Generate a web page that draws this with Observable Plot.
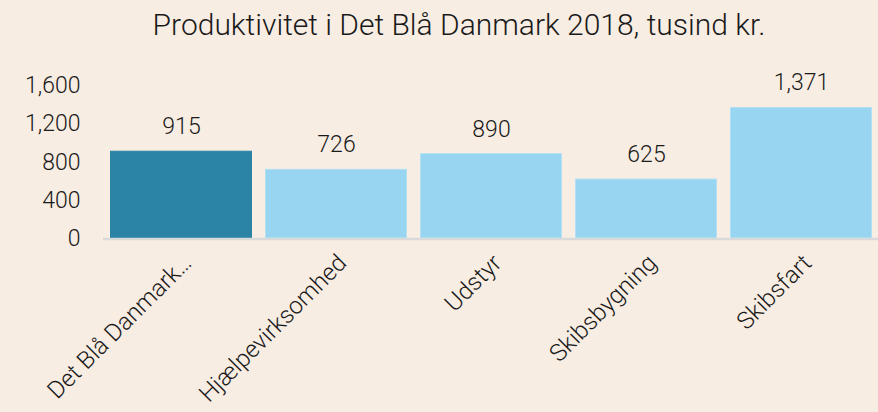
<!DOCTYPE html>
<html>
<head>
<meta charset="utf-8">
<script src="https://cdn.jsdelivr.net/npm/d3@7"></script>
<script src="https://cdn.jsdelivr.net/npm/@observablehq/plot@0.6"></script>
<style>
  html, body { margin: 0; padding: 0; background: #f8ede3; }
  body { width: 878px; height: 412px; overflow: hidden; font-family: Roboto, sans-serif; }
  #title { height: 58px; box-sizing: border-box; padding-top: 7px; padding-left: 40px; text-align: center;
           font-size: 30px; font-weight: 300; color: #1a1a1a; line-height: 36px; }
</style>
</head>
<body>
<div id="title">Produktivitet i Det Blå Danmark 2018, tusind kr.</div>
<div id="chart"></div>
<script>
const categories = ["Det Blå Danmark…", "Hjælpevirksomhed", "Udstyr", "Skibsbygning", "Skibsfart"];
const values = [915, 726, 890, 625, 1371];
const highlight = [true, false, false, false, false];
const yTicks = [0, 400, 800, 1200, 1600];

const data = categories.map((c, i) => ({category: c, value: values[i], hi: highlight[i]}));
const fmt = d3.format(",");

const chart = Plot.plot({
  width: 878,
  height: 354,
  marginLeft: 103,
  marginRight: 0,
  marginTop: 27,
  marginBottom: 173.5,
  style: {background: "transparent", fontFamily: "Roboto, sans-serif", fontSize: "22px", color: "#1a1a1a"},
  x: {domain: categories, paddingInner: 0.087, paddingOuter: 0.0435, label: null},
  y: {domain: [0, 1600], ticks: yTicks, label: null},
  marks: [
    Plot.barY(data, {x: "category", y: "value",
      fill: d => d.hi ? "#2b83a6" : "#97d5f1",
      stroke: d => d.hi ? "#2b83a6" : "#b3e0f4", strokeWidth: 1, inset: 0.5}),
    Plot.ruleY([0], {stroke: "#d9d9d9", strokeWidth: 2.5}),
    Plot.text(data, {x: "category", y: "value", text: d => fmt(d.value),
      dy: -17, lineAnchor: "bottom", fontSize: 23, fill: "#1a1a1a", fontWeight: 300}),
    Plot.axisY({ticks: yTicks, tickFormat: fmt, tickSize: 0, tickPadding: 23, fontSize: 23, fontWeight: 300, label: null}),
    Plot.axisX({tickSize: 0, tickRotate: -45, tickPadding: 20, dx: 6, fontSize: 24, fontWeight: 300, label: null})
  ]
});
document.getElementById("chart").appendChild(chart);
</script>
</body>
</html>
